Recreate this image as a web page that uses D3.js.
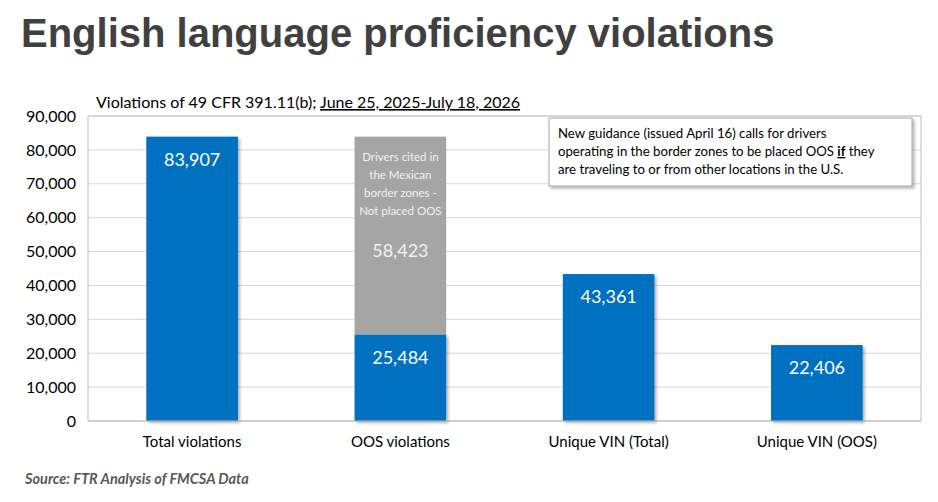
<!DOCTYPE html>
<html><head><meta charset="utf-8">
<script src="https://cdn.jsdelivr.net/npm/d3@7"></script>
<style>
body{margin:0;background:#fff;}
svg{display:block;}
text{font-family:Lato,"Open Sans",sans-serif;}
text.title{font-family:"Liberation Sans",Arial,sans-serif;}
</style></head>
<body>
<svg id="c" width="938" height="502"></svg>
<script>
const categories = ["Total violations","OOS violations","Unique VIN (Total)","Unique VIN (OOS)"];
const blueValues = [83907, 25484, 43361, 22406];
const grayValues = [0, 58423, 0, 0];
const yTicks = [0,10000,20000,30000,40000,50000,60000,70000,80000,90000];
const grayNote = ["Drivers cited in","the Mexican","border zones -","Not placed OOS"];
const boxLines = [["New guidance (issued April 16) calls for drivers"],["operating in the border zones to be placed OOS ","if"," they"],["are traveling to or from other locations in the U.S."]];

const svg = d3.select("#c");
const defs = svg.append("defs");
const f = defs.append("filter").attr("id","sh").attr("x","-10%").attr("y","-10%").attr("width","130%").attr("height","130%");
f.append("feDropShadow").attr("dx",2).attr("dy",2).attr("stdDeviation",1.5).attr("flood-color","#000").attr("flood-opacity",0.3);

const L=88, R=921, T=116, B=421;
const x = d3.scaleBand().domain(categories).range([L,R]).paddingInner(0.56).paddingOuter(0.28);
const y = d3.scaleLinear().domain([0,90000]).range([B,T]);
const fmt = d3.format(",");

// title
svg.append("text").attr("class","title").attr("x",21).attr("y",47)
  .attr("font-weight","bold").attr("font-size",40).attr("fill","#404040")
  .text("English language proficiency violations");

// subtitle
const st = svg.append("text").attr("x",96).attr("y",108).attr("font-size",16).attr("fill","#000");
st.append("tspan").text("Violations of 49 CFR 391.11(b); ");
st.append("tspan").attr("text-decoration","underline").text("June 25, 2025-July 18, 2026");

// gridlines
svg.append("g").selectAll("line").data(yTicks.filter(d=>d>0)).join("line")
  .attr("x1",L).attr("x2",R).attr("y1",d=>y(d)).attr("y2",d=>y(d))
  .attr("stroke","#d9d9d9").attr("stroke-width",1);

// y axis labels
const ya = svg.append("g").attr("transform",`translate(${L},0)`)
  .call(d3.axisLeft(y).tickValues(yTicks).tickFormat(d=>fmt(d)).tickSize(0).tickPadding(12));
ya.select(".domain").remove();
ya.selectAll("text").attr("font-family","Lato,'Open Sans',sans-serif").attr("font-size",16).attr("fill","#000");

// plot border
svg.append("rect").attr("x",L).attr("y",T).attr("width",R-L).attr("height",B-T)
  .attr("fill","none").attr("stroke","#bfbfbf").attr("stroke-width",1);

// bars
const g = svg.append("g");
categories.forEach((c,i)=>{
  if(grayValues[i]>0){
    g.append("rect").attr("x",x(c)).attr("width",x.bandwidth())
      .attr("y",y(blueValues[i]+grayValues[i])).attr("height",y(blueValues[i])-y(blueValues[i]+grayValues[i]))
      .attr("fill","#a5a5a5");
  }
  g.append("rect").attr("x",x(c)).attr("width",x.bandwidth())
    .attr("y",y(blueValues[i])).attr("height",B-y(blueValues[i]))
    .attr("fill","#0070c0").attr("filter","url(#sh)");
});
// bottom axis line
svg.append("line").attr("x1",L).attr("x2",R).attr("y1",B).attr("y2",B).attr("stroke","#bfbfbf");

// value labels
categories.forEach((c,i)=>{
  const cx = x(c)+x.bandwidth()/2;
  svg.append("text").attr("x",cx).attr("y",y(blueValues[i])+29).attr("text-anchor","middle")
    .attr("font-size",18).attr("fill","#fff").text(fmt(blueValues[i]));
  if(grayValues[i]>0){
    const top = y(blueValues[i]+grayValues[i]);
    grayNote.forEach((t,k)=>{
      svg.append("text").attr("x",cx).attr("y",top+24+k*18).attr("text-anchor","middle")
        .attr("font-size",11.5).attr("fill","#f2f2f2").text(t);
    });
    svg.append("text").attr("x",cx).attr("y",top+120).attr("text-anchor","middle")
      .attr("font-size",18).attr("fill","#f2f2f2").text(fmt(grayValues[i]));
  }
});

// category labels
svg.append("g").selectAll("text").data(categories).join("text")
  .attr("x",d=>x(d)+x.bandwidth()/2).attr("y",447).attr("text-anchor","middle")
  .attr("font-size",15).attr("fill","#000").text(d=>d);

// annotation box
svg.append("rect").attr("x",549).attr("y",118).attr("width",363).attr("height",68)
  .attr("fill","#fff").attr("stroke","#a6a6a6").attr("stroke-width",1).attr("filter","url(#sh)");
boxLines.forEach((parts,k)=>{
  const t = svg.append("text").attr("x",558).attr("y",138+k*18).attr("font-size",13.2).attr("fill","#000");
  parts.forEach((p,j)=>{
    const s = t.append("tspan").text(p);
    if(p==="if") s.attr("font-weight","bold").attr("text-decoration","underline");
  });
});

// source
svg.append("text").attr("x",25).attr("y",484).attr("font-size",14.5).attr("font-weight","bold")
  .attr("font-style","italic").attr("fill","#595959").text("Source: FTR Analysis of FMCSA Data");
</script>
</body></html>
